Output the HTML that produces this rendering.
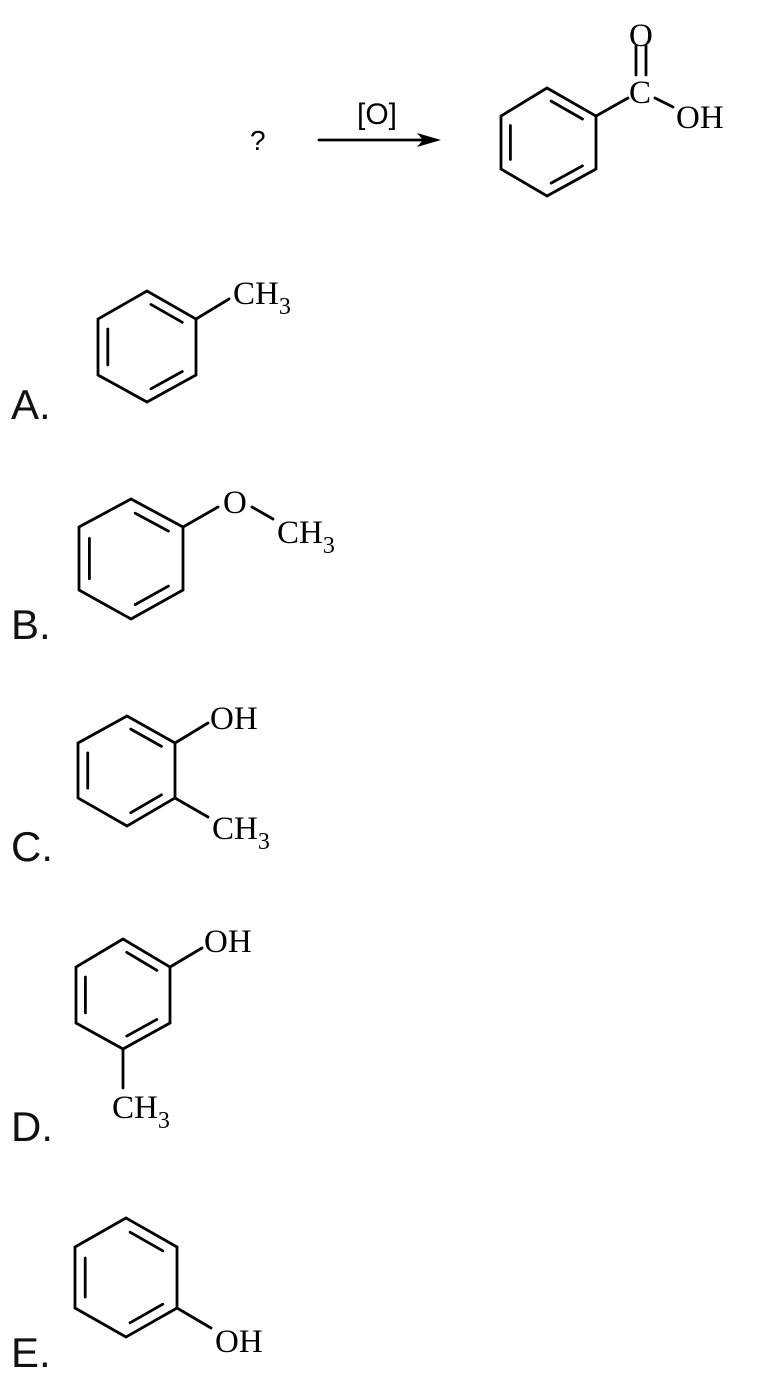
<!DOCTYPE html>
<html><head><meta charset="utf-8"><style>
html,body{margin:0;padding:0;background:#fff;}
svg{display:block;}
.s{font-family:"Liberation Serif",serif;font-size:33px;fill:#000;}
.sub{font-size:24px;}
.l{font-family:"Liberation Sans",sans-serif;font-size:42px;fill:#111;}
</style></head><body>
<svg id="sv" width="766" height="1381" viewBox="0 0 766 1381" xmlns="http://www.w3.org/2000/svg">
<g id="lines" stroke="#000" stroke-width="2.8" fill="none" stroke-linecap="round">
<line x1="319" y1="140" x2="432" y2="140"/>
<path d="M417 133 L441 140 L417 147 L423 140 Z" fill="#000" stroke="none"/>
<line x1="596" y1="116" x2="628" y2="98"/>
<line x1="636" y1="75" x2="636" y2="46"/>
<line x1="646" y1="75" x2="646" y2="46"/>
<line x1="655" y1="98" x2="673" y2="107"/>
<line x1="196" y1="319" x2="229" y2="299"/>
<line x1="183" y1="527" x2="218" y2="507"/>
<line x1="252" y1="507" x2="273" y2="519"/>
<line x1="175" y1="743" x2="208" y2="723"/>
<line x1="175" y1="798" x2="208" y2="817"/>
<line x1="170" y1="967" x2="202" y2="948"/>
<line x1="123" y1="1049" x2="123" y2="1088"/>
<line x1="177" y1="1308" x2="211" y2="1328"/>
</g>
<text x="250" y="150" font-family="Liberation Sans,sans-serif" font-size="28">?</text>
<text x="357" y="124" font-family="Liberation Sans,sans-serif" font-size="30">[O]</text>
<text class="s" x="629" y="46">O</text>
<text class="s" x="629" y="103">C</text>
<text class="s" x="676" y="128">OH</text>
<text class="s" x="233" y="304">CH<tspan class="sub" dy="10">3</tspan></text>
<text class="s" x="223" y="513">O</text>
<text class="s" x="277" y="543">CH<tspan class="sub" dy="10">3</tspan></text>
<text class="s" x="210" y="729">OH</text>
<text class="s" x="212" y="839">CH<tspan class="sub" dy="10">3</tspan></text>
<text class="s" x="204" y="952">OH</text>
<text class="s" x="112" y="1118">CH<tspan class="sub" dy="10">3</tspan></text>
<text class="s" x="215" y="1352">OH</text>
<text class="l" x="11" y="419">A.</text>
<text class="l" x="11" y="639">B.</text>
<text class="l" x="11" y="861">C.</text>
<text class="l" x="11" y="1141">D.</text>
<text class="l" x="11" y="1367">E.</text>
</svg>
<script>
var rings=[
[[547,88],[596,116],[596,169],[547,196],[501,169],[501,116]],
[[147,291],[196,319],[196,375],[147,402],[98,375],[98,319]],
[[131,499],[183,527],[183,590],[131,619],[79,590],[79,527]],
[[127,716],[175,743],[175,798],[127,826],[78,798],[78,743]],
[[123,939],[170,967],[170,1023],[123,1049],[76,1023],[76,967]],
[[126,1218],[177,1247],[177,1308],[126,1337],[75,1308],[75,1247]]
];
var g=document.getElementById('lines'),ns="http://www.w3.org/2000/svg";
function ln(a,b){var l=document.createElementNS(ns,'line');l.setAttribute('x1',a[0]);l.setAttribute('y1',a[1]);l.setAttribute('x2',b[0]);l.setAttribute('y2',b[1]);g.appendChild(l);}
rings.forEach(function(r){
var cx=0,cy=0;r.forEach(function(p){cx+=p[0];cy+=p[1];});cx/=6;cy/=6;
r.push(r[0]);var pts=r.map(function(p){return p.join(',')}).join(' ');
var pl=document.createElementNS(ns,'polyline');pl.setAttribute('points',pts);pl.setAttribute('stroke-linejoin','miter');g.appendChild(pl);
[0,2,4].forEach(function(i){
var a=r[i],b=r[i+1],f=0.8;
var a2=[cx+(a[0]-cx)*f,cy+(a[1]-cy)*f],b2=[cx+(b[0]-cx)*f,cy+(b[1]-cy)*f];
var dx=b2[0]-a2[0],dy=b2[1]-a2[1],t=0.1;
ln([a2[0]+dx*t,a2[1]+dy*t],[b2[0]-dx*t,b2[1]-dy*t]);
});
});
</script>
</body></html>
